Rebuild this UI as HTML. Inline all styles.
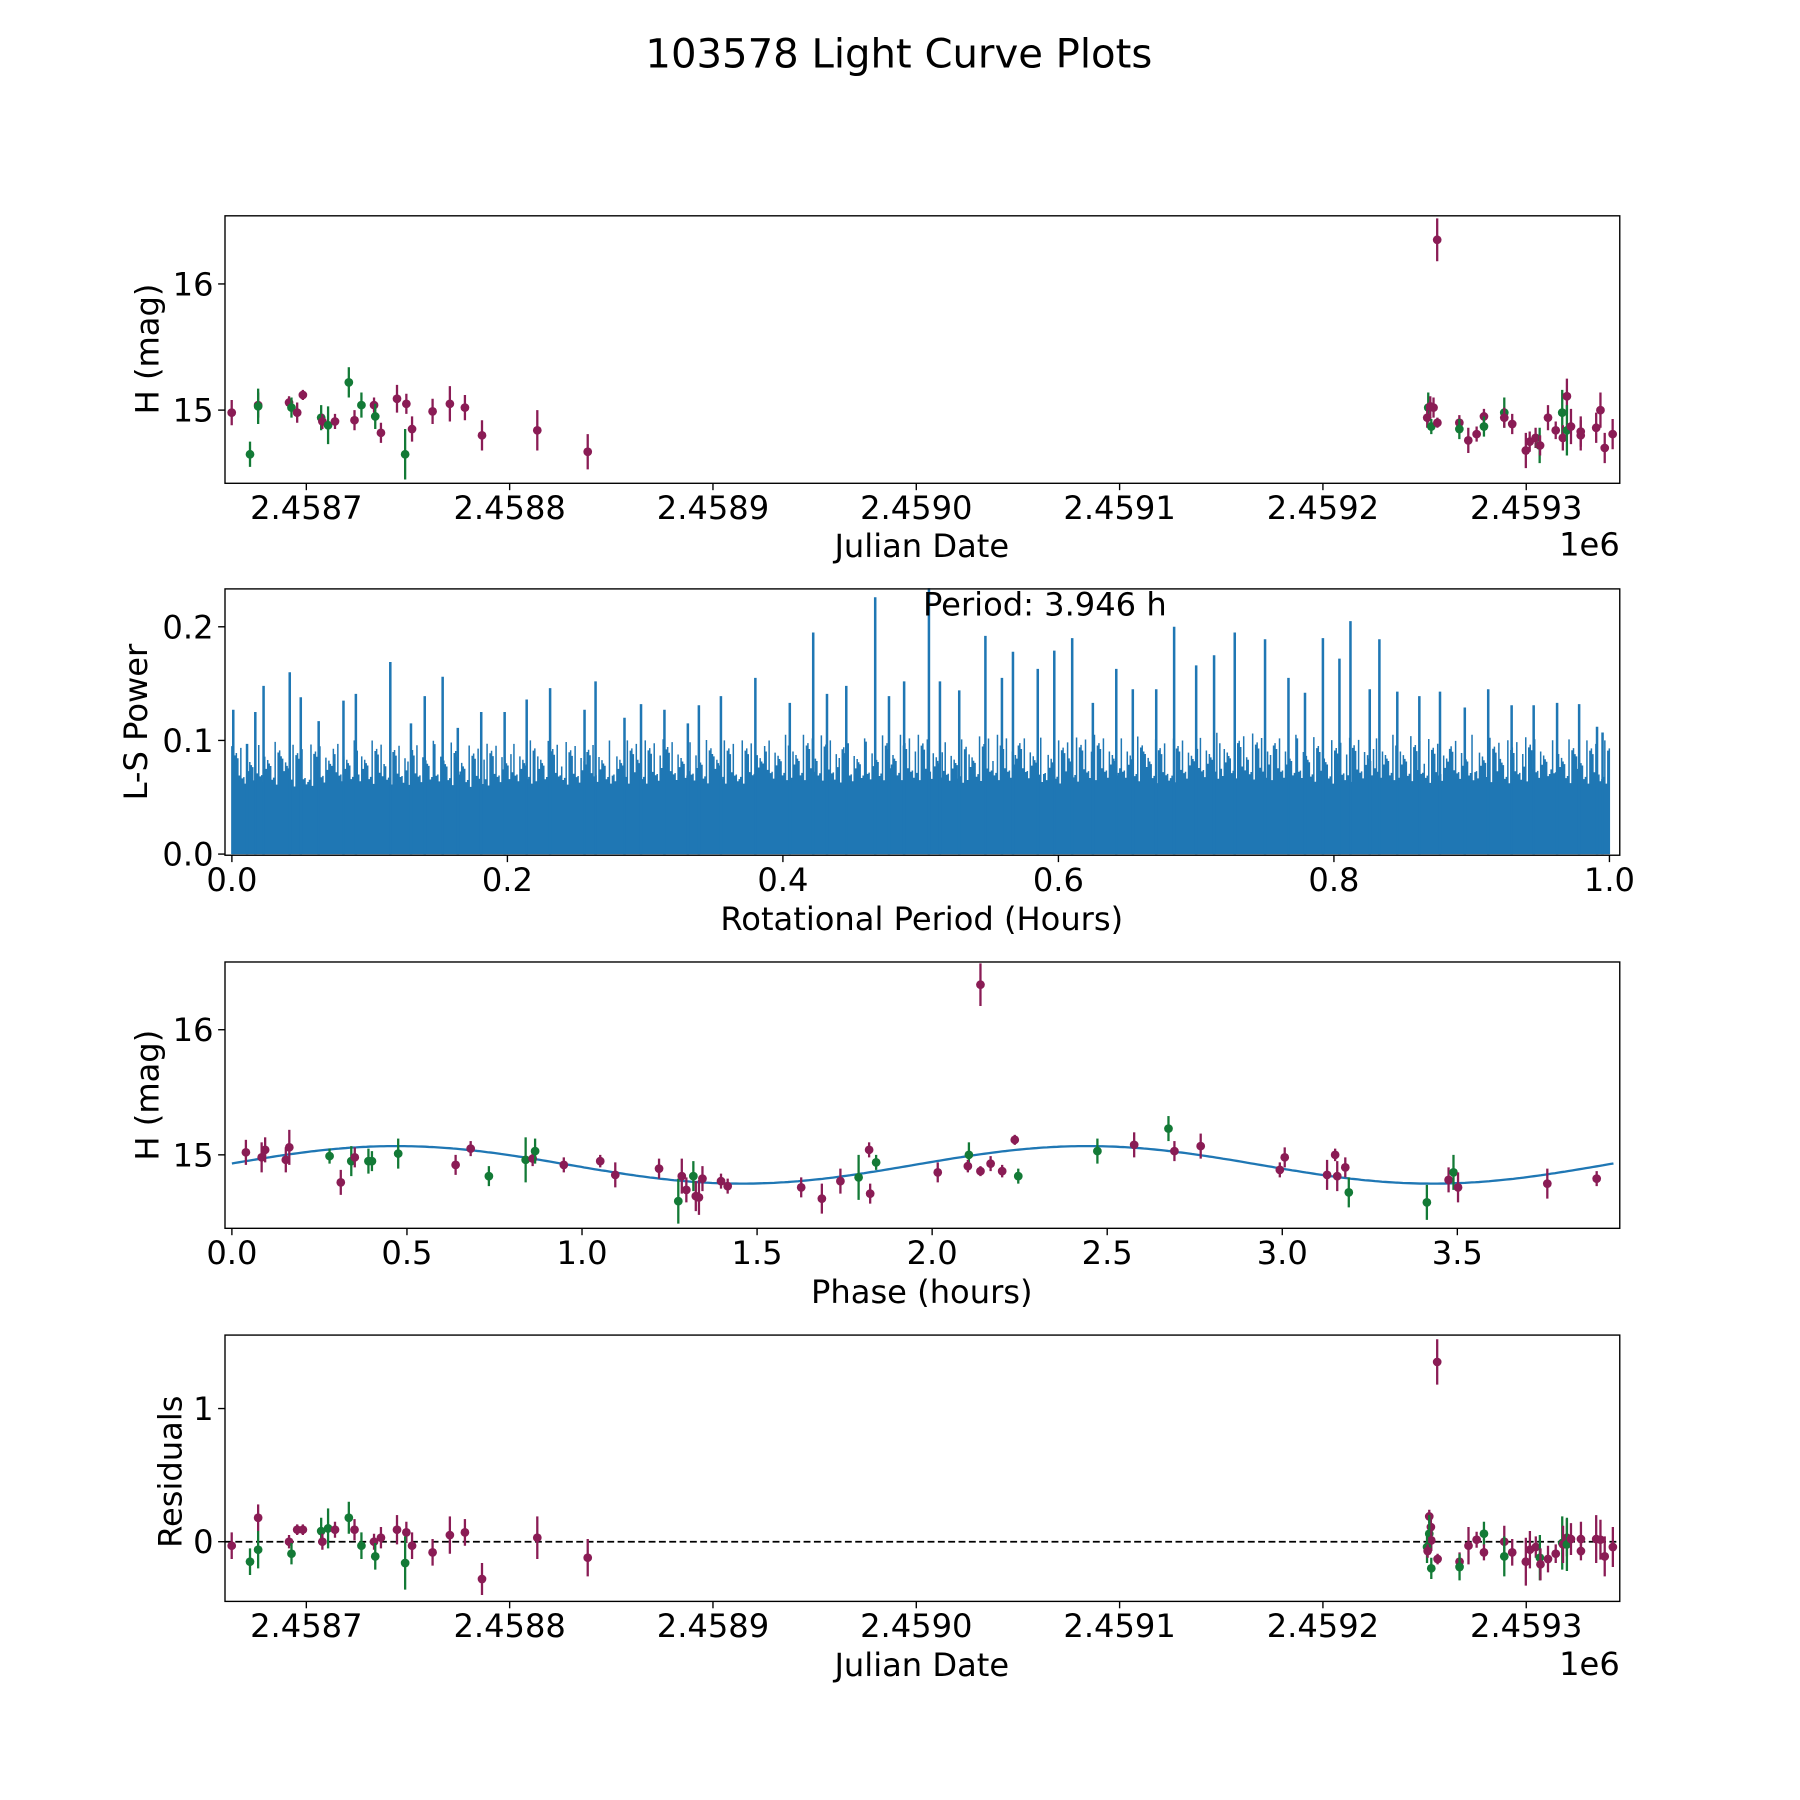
<!DOCTYPE html>
<html><head><meta charset="utf-8"><style>
html,body{margin:0;padding:0;background:#fff}
svg{display:block}
text{font-family:"DejaVu Sans","Liberation Sans",sans-serif;fill:#000}
</style></head><body>
<svg id="fig" width="1800" height="1800" viewBox="0 0 1568 1568" xmlns="http://www.w3.org/2000/svg">
<rect width="1568" height="1568" fill="#fff"/>
<text x="783" y="59" font-size="35" text-anchor="middle">103578 Light Curve Plots</text>
</svg>
<script>
// ---------- Panel 1 / Light curve data ----------
const lcJD=[2458663.3,2458672.3,2458676.3,2458676.3,2458691.5,2458692.7,2458695.5,2458698.3,2458707.3,2458707.9,2458710.7,2458714.1,2458720.9,2458723.7,2458727.1,2458733.3,2458733.9,2458736.7,2458744.6,2458749.2,2458748.6,2458752,2458762.1,2458770.6,2458778,2458786.4,2458813.6,2458838.4,
2459256.2,2459251.8,2459251.3,2459252.8,2459254.4,2459253.3,2459256.3,2459267.1,2459267.1,2459271.5,2459275.6,2459279.2,2459279.2,2459289.2,2459289.2,2459293.1,2459299.8,2459301.7,2459304.6,2459306.6,2459306.8,2459310.7,2459314.5,2459317.7,2459320,2459318,2459320,2459322,2459326.8,2459326.8,2459334.4,2459336.5,2459338.6,2459342.5];
const lcMag=[14.98,14.65,15.04,15.03,15.06,15.02,14.98,15.12,14.94,14.91,14.88,14.91,15.22,14.92,15.04,15.04,14.95,14.82,15.09,15.05,14.65,14.85,14.99,15.05,15.02,14.80,14.84,14.67,
16.35,15.02,14.94,15.03,15.02,14.87,14.90,14.90,14.85,14.76,14.81,14.95,14.87,14.98,14.94,14.89,14.68,14.75,14.78,14.72,14.72,14.94,14.84,14.98,15.11,14.78,14.84,14.87,14.83,14.80,14.86,15.00,14.70,14.81];
const lcErr=[0.1,0.1,0.1,0.14,0.05,0.08,0.08,0.04,0.1,0.06,0.15,0.06,0.12,0.08,0.1,0.06,0.1,0.08,0.11,0.08,0.2,0.1,0.1,0.14,0.1,0.12,0.16,0.14,
0.17,0.12,0.08,0.08,0.08,0.06,0.04,0.06,0.08,0.1,0.06,0.06,0.08,0.12,0.08,0.08,0.14,0.08,0.08,0.14,0.08,0.1,0.07,0.18,0.14,0.1,0.2,0.14,0.12,0.12,0.12,0.14,0.12,0.12];
const lcBand=["r","g","r","g","r","g","r","r","g","r","g","r","g","r","g","r","g","r","r","r","g","r","r","r","r","r","r","r",
"r","g","r","r","r","g","r","r","g","r","r","r","g","g","r","r","r","r","r","g","r","r","r","g","r","r","g","r","r","r","r","r","r","r"];
const jdTicks=[2458700,2458800,2458900,2459000,2459100,2459200,2459300];
const jdTickLabels=["2.4587","2.4588","2.4589","2.4590","2.4591","2.4592","2.4593"];
const magTicks=[15,16];
// ---------- Panel 2 / Periodogram ----------
const lsPeriod=[0.001,0.011,0.017,0.023,0.042,0.05,0.063,0.081,0.09,0.115,0.13,0.14,0.153,0.164,0.181,0.198,0.214,0.231,0.256,0.264,0.285,0.297,0.314,0.331,0.339,0.355,0.38,0.405,0.422,0.432,0.446,0.467,0.477,0.488,0.506,0.514,0.528,0.547,0.559,0.567,0.585,0.597,0.61,0.625,0.642,0.654,0.671,0.684,0.7,0.713,0.728,0.75,0.767,0.779,0.792,0.804,0.812,0.826,0.833,0.846,0.862,0.877,0.895,0.912,0.929,0.945,0.962,0.978,0.991,0.995];
const lsPower=[0.127,0.097,0.125,0.148,0.16,0.138,0.117,0.135,0.141,0.169,0.115,0.139,0.156,0.111,0.125,0.125,0.136,0.146,0.127,0.152,0.12,0.132,0.127,0.115,0.131,0.139,0.155,0.133,0.195,0.141,0.148,0.226,0.139,0.152,0.234,0.152,0.144,0.192,0.155,0.178,0.163,0.179,0.19,0.133,0.163,0.145,0.145,0.2,0.166,0.175,0.195,0.189,0.155,0.142,0.19,0.172,0.205,0.145,0.189,0.143,0.139,0.143,0.129,0.145,0.131,0.131,0.133,0.132,0.112,0.107];
const lsEnvelope=[0.095,0.1,0.095,0.1,0.1,0.098,0.1,0.095,0.1,0.1,0.098,0.1,0.1,0.102,0.1,0.1,0.105,0.105,0.1,0.105,0.105,0.1,0.105,0.105,0.1,0.105,0.105,0.1,0.105,0.108,0.105,0.105,0.1,0.105,0.105,0.1,0.105,0.1,0.105,0.1,0.1];
const lsFloor=0.055;
const periodTicks=[0,0.2,0.4,0.6,0.8,1.0];
const periodTickLabels=["0.0","0.2","0.4","0.6","0.8","1.0"];
const powerTicks=[0,0.1,0.2];
const powerTickLabels=["0.0","0.1","0.2"];
// ---------- Panel 3 / Phase-folded ----------
const phX=[0.04,0.085,0.095,0.154,0.164,0.279,0.311,0.341,0.351,0.39,0.4,0.475,0.639,0.682,0.734,0.839,0.859,0.866,0.948,1.052,1.095,1.22,1.275,1.285,1.298,1.318,1.325,1.334,1.344,1.397,1.416,1.626,1.685,1.738,1.79,1.82,1.823,1.84,2.016,2.105,2.102,2.138,2.138,2.167,2.2,2.236,2.246,2.472,2.577,2.675,2.692,2.767,2.993,3.007,3.128,3.151,3.157,3.18,3.19,3.413,3.475,3.489,3.502,3.757,3.898];
const phMag=[15.02,14.98,15.04,14.96,15.06,14.99,14.78,14.95,14.98,14.95,14.95,15.01,14.92,15.05,14.83,14.96,14.97,15.03,14.92,14.95,14.84,14.89,14.63,14.83,14.72,14.83,14.67,14.66,14.81,14.79,14.75,14.74,14.65,14.79,14.82,15.04,14.69,14.94,14.86,15.00,14.91,16.36,14.87,14.93,14.87,15.12,14.83,15.03,15.08,15.21,15.03,15.07,14.88,14.98,14.84,15.0,14.83,14.9,14.70,14.62,14.80,14.86,14.74,14.77,14.81];
const phErr=[0.1,0.12,0.1,0.1,0.14,0.06,0.1,0.12,0.08,0.1,0.08,0.12,0.08,0.06,0.08,0.18,0.06,0.1,0.06,0.05,0.1,0.08,0.18,0.14,0.1,0.12,0.12,0.14,0.1,0.06,0.06,0.08,0.12,0.1,0.18,0.06,0.08,0.06,0.08,0.1,0.05,0.17,0.04,0.06,0.05,0.04,0.06,0.1,0.1,0.1,0.08,0.1,0.06,0.08,0.12,0.05,0.12,0.08,0.12,0.14,0.1,0.14,0.12,0.12,0.06];
const phBand=["r","r","r","r","r","g","r","g","r","g","g","g","r","r","g","g","r","g","r","r","r","r","g","r","r","g","r","r","r","r","r","r","r","r","g","r","r","g","r","g","r","r","r","r","r","r","g","g","r","g","r","r","r","r","r","r","r","r","g","g","r","g","r","r","r"];
const fitMean=14.92, fitAmp=0.15, fitPeak=0.47, fitHalfPeriod=1.973, foldPeriod=3.946;
const phaseTicks=[0,0.5,1,1.5,2,2.5,3,3.5];
const phaseTickLabels=["0.0","0.5","1.0","1.5","2.0","2.5","3.0","3.5"];
// ---------- Panel 4 / Residuals ----------
const resJD=[2458663.3,2458672.3,2458676.3,2458676.3,2458691.5,2458692.7,2458695.5,2458698.3,2458707.3,2458707.9,2458710.7,2458714.1,2458720.9,2458723.7,2458727.1,2458733.3,2458733.9,2458736.7,2458744.6,2458749.2,2458748.6,2458752,2458762.1,2458770.6,2458778,2458786.4,2458813.6,2458838.4,
2459256.2,2459252.3,2459253.1,2459252.3,2459253.3,2459251.2,2459251.5,2459253.3,2459256.4,2459267.2,2459267.2,2459271.6,2459275.6,2459279.2,2459279.2,2459289.2,2459289.2,2459293.1,2459299.8,2459301.8,2459304.7,2459306.7,2459307,2459310.7,2459314.5,2459317.7,2459320,2459318.1,2459320,2459322,2459326.9,2459326.9,2459334.4,2459336.5,2459338.6,2459342.6];
const resVal=[-0.03,-0.15,0.18,-0.06,0.0,-0.09,0.09,0.09,0.08,0.0,0.1,0.09,0.18,0.09,-0.03,0.0,-0.11,0.03,0.09,0.07,-0.16,-0.03,-0.08,0.05,0.07,-0.28,0.03,-0.12,
1.35,0.19,0.11,0.06,0.01,-0.04,-0.07,-0.2,-0.13,-0.15,-0.19,-0.03,0.015,0.06,-0.08,0.0,-0.11,-0.08,-0.15,-0.06,-0.04,-0.12,-0.17,-0.13,-0.09,-0.01,0.03,-0.02,-0.02,0.02,0.02,-0.07,0.02,0.015,-0.11,-0.04];
const resErr=[0.1,0.1,0.1,0.14,0.05,0.08,0.04,0.04,0.1,0.06,0.15,0.06,0.12,0.08,0.1,0.06,0.1,0.08,0.11,0.08,0.2,0.1,0.1,0.14,0.1,0.12,0.16,0.14,
0.17,0.05,0.08,0.14,0.08,0.12,0.05,0.08,0.04,0.07,0.1,0.14,0.06,0.09,0.06,0.12,0.15,0.1,0.18,0.14,0.08,0.17,0.12,0.1,0.07,0.2,0.14,0.14,0.2,0.12,0.13,0.07,0.18,0.15,0.15,0.15];
const resBand=["r","g","r","g","r","g","r","r","g","r","g","r","g","r","g","r","g","r","r","r","g","r","r","r","r","r","r","r",
"r","r","r","g","r","g","r","g","r","r","g","r","r","g","r","r","g","r","r","r","r","g","r","r","r","g","r","r","g","r","r","r","r","r","r","r"];
const resTicks=[0,1];

const NS="http://www.w3.org/2000/svg";
const svg=document.getElementById('fig');
const COL={r:"#8a1c55",g:"#137a36"};
const FS=28;
function mk(tag,attrs,parent){const e=document.createElementNS(NS,tag);for(const k in attrs)e.setAttribute(k,attrs[k]);(parent||svg).appendChild(e);return e;}
function scale(d0,d1,r0,r1){return v=>r0+(v-d0)/(d1-d0)*(r1-r0);}
const L=196,R=1411;

function frame(name){
  const g=mk('g',{});
  
  
  return g;
}
function border(g,top,bot){
  const r=mk('rect',{x:L,y:top,width:R-L,height:bot-top,fill:'none',stroke:'#000','stroke-width':1.2},g);
  
  
}
function xticks(g,ticks,labels,sx,bot){
  ticks.forEach((t,i)=>{
    const x=sx(t);
    const l=mk('line',{x1:x,x2:x,y1:bot,y2:bot+6,stroke:'#000','stroke-width':1.2},g);
    
    
    const tx=mk('text',{x:x,y:bot+31,'font-size':FS,'text-anchor':'middle'},g);
    tx.textContent=labels[i];
    
    
  });
}
function yticks(g,ticks,labels,sy){
  ticks.forEach((t,i)=>{
    const y=sy(t);
    const l=mk('line',{x1:L-6,x2:L,y1:y,y2:y,stroke:'#000','stroke-width':1.2},g);
    
    
    const tx=mk('text',{x:L-10,y:y+10,'font-size':FS,'text-anchor':'end'},g);
    tx.textContent=labels[i];
    
    
  });
}
function label(g,txt,x,y,rot,name){
  const t=mk('text',{x:x,y:y,'font-size':FS,'text-anchor':'middle',transform:rot?`rotate(-90 ${x} ${y})`:''},g);
  t.textContent=txt;
  
  
}
function points(g,xs,ys,es,bs,sx,sy,top,bot){
  const cp='c'+Math.round(top);
  const clip=mk('clipPath',{id:cp},g);
  mk('rect',{x:L,y:top,width:R-L,height:bot-top},clip);
  const pg=mk('g',{'clip-path':`url(#${cp})`},g);
  xs.forEach((v,i)=>{
    const x=sx(v),y=sy(ys[i]),c=COL[bs[i]];
    const e=mk('line',{x1:x,x2:x,y1:sy(ys[i]-es[i]),y2:sy(ys[i]+es[i]),stroke:c,'stroke-width':2},pg);
    
    
    const p=mk('circle',{cx:x,cy:y,r:3.8,fill:c},pg);
    
    
  });
}

// Panel 1
(function(){
  const top=188,bot=421;
  const g=frame('light-curve-panel');
  const sx=scale(2458660,2459346,L,R), sy=scale(14.42,16.54,bot,top);
  points(g,lcJD,lcMag,lcErr,lcBand,sx,sy,top,bot);
  border(g,top,bot);
  xticks(g,jdTicks,jdTickLabels,sx,bot);
  yticks(g,magTicks,magTicks.map(String),sy);
  label(g,'Julian Date',803,485,false,'x-axis-title');
  label(g,'H (mag)',138,304,true,'y-axis-title');
  const o=mk('text',{x:1411,y:484,'font-size':FS,'text-anchor':'end'},g);o.textContent='1e6';
  
  
})();

// Panel 2
(function(){
  const top=513,bot=745;
  const g=frame('periodogram-panel');
  const sx=scale(-0.005,1.0075,L,R);
  const sy2=v=>744-v*990;
  const blue="#1f77b4";
  const fl=mk('rect',{x:sx(0),y:sy2(lsFloor),width:sx(1)-sx(0),height:sy2(0)-sy2(lsFloor),fill:blue},g);
  
  
  let d='';
  const n=lsEnvelope.length;
  const mult=[1,0.72,0.86,0.66,0.93,0.7,0.8,0.62,0.97,0.75,0.68,0.88,0.64,0.78,0.91,0.69,0.83];
  let j=0;
  for(let px=sx(0);px<=sx(1);px+=1.3){
    const f=(px-sx(0))/(sx(1)-sx(0))*(n-1);
    const i=Math.min(n-2,Math.floor(f)),fr=f-i;
    const env=lsEnvelope[i]*(1-fr)+lsEnvelope[i+1]*fr;
    const h=env*mult[(j*7+Math.floor(j/17))%mult.length];
    j++;
    d+=`M${px.toFixed(1)} ${sy2(0)}V${sy2(h).toFixed(1)}`;
  }
  const ln=mk('path',{d:d,stroke:blue,'stroke-width':1.3,fill:'none'},g);
  
  
  lsPeriod.forEach((p,i)=>{
    const x=sx(p);
    const pk=mk('line',{x1:x,x2:x,y1:sy2(0),y2:sy2(lsPower[i]),stroke:blue,'stroke-width':2.2},g);
    
    
  });
  border(g,top,bot);
  xticks(g,periodTicks,periodTickLabels,sx,bot);
  yticks(g,powerTicks,powerTickLabels,sy2);
  label(g,'Rotational Period (Hours)',803,810,false,'x-axis-title');
  label(g,'L-S Power',128,629,true,'y-axis-title');
  const pt=mk('text',{x:804,y:536,'font-size':FS,'text-anchor':'start'},g);
  pt.textContent='Period: 3.946 h';
  
  
})();

// Panel 3
(function(){
  const top=838,bot=1070;
  const g=frame('phase-folded-panel');
  const sx=scale(0,1,202,507), sy=scale(15,16,1006,897);
  let d='';
  for(let i=0;i<=400;i++){
    const ph=foldPeriod*i/400;
    const m=fitMean+fitAmp*Math.cos(2*Math.PI*(ph-fitPeak)/fitHalfPeriod);
    d+=(i?'L':'M')+sx(ph).toFixed(1)+' '+sy(m).toFixed(1);
  }
  const fit=mk('path',{d:d,stroke:'#1f77b4','stroke-width':2,fill:'none'},g);
  
  
  points(g,phX,phMag,phErr,phBand,sx,sy,top,bot);
  border(g,top,bot);
  xticks(g,phaseTicks,phaseTickLabels,sx,bot);
  yticks(g,magTicks,magTicks.map(String),sy);
  label(g,'Phase (hours)',803,1135,false,'x-axis-title');
  label(g,'H (mag)',138,954,true,'y-axis-title');
})();

// Panel 4
(function(){
  const top=1163,bot=1395;
  const g=frame('residuals-panel');
  const sx=scale(2458660,2459346,L,R), sy=scale(0,1,1343,1227);
  const z=mk('line',{x1:L,x2:R,y1:sy(0),y2:sy(0),stroke:'#000','stroke-width':1.5,'stroke-dasharray':'6,3'},g);
  
  
  points(g,resJD,resVal,resErr,resBand,sx,sy,top,bot);
  border(g,top,bot);
  xticks(g,jdTicks,jdTickLabels,sx,bot);
  yticks(g,resTicks,resTicks.map(String),sy);
  label(g,'Julian Date',803,1460,false,'x-axis-title');
  label(g,'Residuals',158,1282,true,'y-axis-title');
  const o=mk('text',{x:1411,y:1459,'font-size':FS,'text-anchor':'end'},g);o.textContent='1e6';
  
  
})();
</script>
</body></html>
